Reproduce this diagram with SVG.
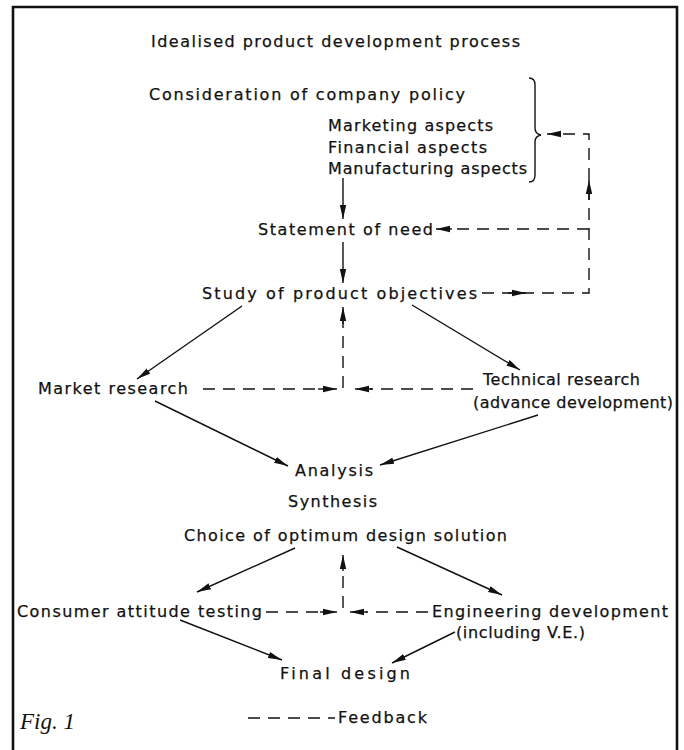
<svg xmlns="http://www.w3.org/2000/svg" width="684" height="750" viewBox="0 0 684 750">
  <defs>
    <style>
      .t { font-family: "DejaVu Sans", "Liberation Sans", Arial, sans-serif; font-size: 16px; fill: #111; stroke: #111; stroke-width: 0.25px; }
      .fig { font-family: "Liberation Serif", "Times New Roman", serif; font-style: italic; font-size: 23px; fill: #111; }
      .solid { fill: none; stroke: #111; stroke-width: 1.4; }
      .dash { fill: none; stroke: #111; stroke-width: 1.4; stroke-dasharray: 12 8; }
      .frame { fill: none; stroke: #111; stroke-width: 2.6; }
    </style>
    <marker id="arr" viewBox="0 0 14 8" refX="14" refY="4" markerWidth="14" markerHeight="8" markerUnits="userSpaceOnUse" orient="auto">
      <path d="M0,0.8 L14,4 L0,7.2 z" fill="#111"/>
    </marker>
  </defs>

  <rect width="684" height="750" fill="#fff"/>

  <!-- open frame: left, top and right edges -->
  <path class="frame" d="M13,750 L13,7 L677,7 L677,750"/>

  <g id="title">
    <text class="t" x="151" y="47" textLength="369" lengthAdjust="spacing">Idealised product development process</text>
  </g>

  <g id="company-policy">
    <text class="t" x="149" y="100" textLength="316" lengthAdjust="spacing">Consideration of company policy</text>
    <text class="t" x="328" y="131" textLength="165" lengthAdjust="spacing">Marketing aspects</text>
    <text class="t" x="328" y="153" textLength="159" lengthAdjust="spacing">Financial aspects</text>
    <text class="t" x="328" y="174" textLength="199" lengthAdjust="spacing">Manufacturing aspects</text>
    <path class="solid" stroke-width="1.9" d="M529,78 Q535,78 535,85 L535,128 Q535,134 541,135 Q535,136 535,142 L535,175 Q535,182 529,182"/>
  </g>

  <g id="statement-of-need">
    <text class="t" x="258" y="235" textLength="175" lengthAdjust="spacing">Statement of need</text>
  </g>

  <g id="product-objectives">
    <text class="t" x="202" y="299" textLength="275" lengthAdjust="spacing">Study of product objectives</text>
  </g>

  <g id="market-research">
    <text class="t" x="38" y="394" textLength="150" lengthAdjust="spacing">Market research</text>
  </g>

  <g id="technical-research">
    <text class="t" x="483" y="385" textLength="157" lengthAdjust="spacing">Technical research</text>
    <text class="t" x="473" y="408" textLength="200" lengthAdjust="spacing">(advance development)</text>
  </g>

  <g id="analysis">
    <text class="t" x="295" y="476" textLength="78" lengthAdjust="spacing">Analysis</text>
  </g>

  <g id="synthesis">
    <text class="t" x="288" y="507" textLength="89" lengthAdjust="spacing">Synthesis</text>
  </g>

  <g id="optimum-design">
    <text class="t" x="184" y="541" textLength="323" lengthAdjust="spacing">Choice of optimum design solution</text>
  </g>

  <g id="consumer-testing">
    <text class="t" x="17" y="617" textLength="245" lengthAdjust="spacing">Consumer attitude testing</text>
  </g>

  <g id="engineering-development">
    <text class="t" x="432" y="617" textLength="236" lengthAdjust="spacing">Engineering development</text>
    <text class="t" x="456" y="638" textLength="129" lengthAdjust="spacing">(including V.E.)</text>
  </g>

  <g id="final-design">
    <text class="t" x="280" y="679" textLength="130" lengthAdjust="spacing">Final design</text>
  </g>

  <g id="legend">
    <path class="dash" stroke-dasharray="16 6" d="M248,718 L335,718"/>
    <text class="t" x="338" y="723" textLength="89" lengthAdjust="spacing">Feedback</text>
    <text class="fig" x="20" y="729">Fig. 1</text>
  </g>

  <g id="connectors">
    <!-- main flow -->
    <path class="solid" marker-end="url(#arr)" d="M343,178 L343,219"/>
    <path class="solid" marker-end="url(#arr)" d="M343,242 L343,283"/>
    <path class="solid" marker-end="url(#arr)" d="M242,306 L137,379"/>
    <path class="solid" marker-end="url(#arr)" d="M412,305 L520,370"/>
    <path class="solid" marker-end="url(#arr)" d="M155,401 L288,466"/>
    <path class="solid" marker-end="url(#arr)" d="M538,415 L380,465"/>
    <path class="solid" marker-end="url(#arr)" d="M295,548 L197,592"/>
    <path class="solid" marker-end="url(#arr)" d="M397,547 L502,595"/>
    <path class="solid" marker-end="url(#arr)" d="M180,620 L282,660"/>
    <path class="solid" marker-end="url(#arr)" d="M455,632 L392,663"/>

    <!-- feedback loop to policy and statement of need -->
    <path class="dash" d="M482,293 L589,293 L589,134 L560,134"/>
    <path class="solid" marker-end="url(#arr)" d="M560,134 L547,134"/>
    <path class="dash" d="M589,229 L450,229"/>
    <path class="solid" marker-end="url(#arr)" d="M452,229 L436,229"/>
    <path class="solid" marker-end="url(#arr)" d="M508,293 L526,293"/>
    <path class="solid" marker-end="url(#arr)" d="M589,200 L589,180"/>

    <!-- feedback from research to objectives -->
    <path class="dash" d="M203,389 L322,389"/>
    <path class="solid" marker-end="url(#arr)" d="M318,389 L337,389"/>
    <path class="dash" d="M473,389 L370,389"/>
    <path class="solid" marker-end="url(#arr)" d="M372,389 L355,389"/>
    <path class="dash" d="M343,388 L343,320"/>
    <path class="solid" marker-end="url(#arr)" d="M343,324 L343,307"/>

    <!-- feedback from testing and development to optimum design -->
    <path class="dash" d="M266,612 L322,612"/>
    <path class="solid" marker-end="url(#arr)" d="M320,612 L337,612"/>
    <path class="dash" d="M428,612 L366,612"/>
    <path class="solid" marker-end="url(#arr)" d="M367,612 L350,612"/>
    <path class="dash" d="M343,608 L343,568"/>
    <path class="solid" marker-end="url(#arr)" d="M343,571 L343,555"/>
  </g>
</svg>
